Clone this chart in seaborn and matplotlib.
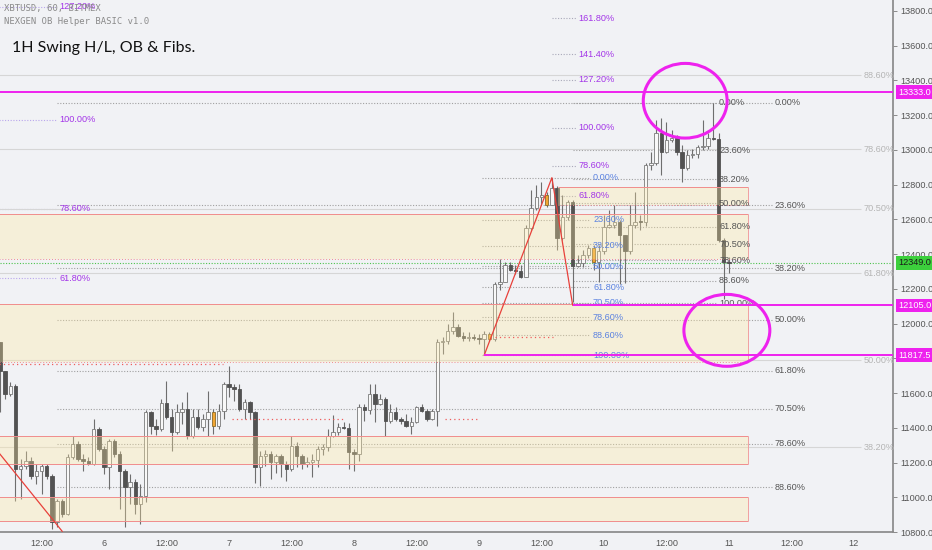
import matplotlib
matplotlib.use("Agg")
import matplotlib.pyplot as plt
import matplotlib.transforms as mtransforms
from matplotlib.patches import Rectangle, Ellipse
import numpy as np
import seaborn as sns

# ---- candles: hours since Jan 5 00:00, XBTUSD 1H ----
hours = list(range(3, 145))
first_open = 11794
closes = [11892, 11725, 11593, 11639, 11162, 11179, 11208, 11122, 11151, 11179,
          11122, 10857, 10978, 10903, 11231, 11306, 11220, 11208, 11191, 11392,
          11277, 11174, 11323, 11248, 11151, 11059, 11087, 10961, 11007, 11490,
          11409, 11392, 11541, 11461, 11375, 11490, 11507, 11352, 11461, 11403,
          11449, 11490, 11409, 11495, 11650, 11633, 11622, 11507, 11547, 11490,
          11174, 11237, 11248, 11202, 11237, 11191, 11162, 11294, 11237, 11191,
          11202, 11214, 11277, 11289, 11352, 11375, 11403, 11400, 11260, 11248,
          11518, 11501, 11593, 11536, 11564, 11438, 11490, 11449, 11438, 11409,
          11432, 11518, 11495, 11449, 11495, 11892, 11898, 11955, 11978, 11926,
          11915, 11920, 11915, 11912, 11938, 11909, 12225, 12242, 12340, 12311,
          12300, 12271, 12553, 12668, 12731, 12742, 12685, 12783, 12495, 12616,
          12702, 12334, 12351, 12397, 12438, 12357, 12415, 12558, 12570, 12587,
          12512, 12415, 12570, 12587, 12582, 12915, 12926, 13099, 12990, 13058,
          13070, 12990, 12898, 12972, 12978, 13018, 13024, 13070, 13064, 12484,
          12357, 12349]
highs = [11920, 11892, 11725, 11662, 11650, 11220, 11266, 11231, 11191, 11191,
         11191, 11133, 10990, 10990, 11248, 11352, 11323, 11248, 11231, 11449,
         11403, 11294, 11334, 11334, 11266, 11162, 11133, 11105, 11076, 11501,
         11495, 11449, 11564, 11668, 11507, 11536, 11547, 11605, 11507, 11507,
         11478, 11610, 11507, 11536, 11662, 11754, 11650, 11650, 11564, 11553,
         11495, 11266, 11271, 11266, 11248, 11248, 11208, 11352, 11317, 11248,
         11231, 11248, 11294, 11306, 11392, 11472, 11426, 11432, 11426, 11277,
         11536, 11536, 11650, 11650, 11593, 11576, 11536, 11518, 11461, 11478,
         11461, 11524, 11536, 11507, 11507, 11909, 11920, 11995, 12064, 11995,
         11949, 11949, 11938, 11938, 11955, 11949, 12242, 12369, 12357, 12357,
         12340, 12340, 12570, 12771, 12800, 12817, 12760, 12840, 12794, 12742,
         12714, 12714, 12397, 12426, 12455, 12455, 12455, 12627, 12656, 12685,
         12599, 12512, 12685, 12760, 12627, 12926, 12990, 13174, 13185, 13162,
         13116, 13087, 13030, 13001, 13007, 13030, 13174, 13099, 13271, 13099,
         12495, 12386]
lows = [11783, 11490, 11564, 11582, 10978, 10990, 11162, 11105, 11076, 11018,
        11105, 10817, 10829, 10886, 10898, 11220, 11208, 11151, 11185, 11185,
        11266, 11133, 11047, 11231, 10932, 10829, 10961, 10903, 10846, 10972,
        11363, 11357, 11380, 11449, 11266, 11363, 11421, 11334, 11340, 11392,
        11380, 11352, 11363, 11392, 11449, 11576, 11553, 11495, 11449, 11449,
        11082, 11064, 11179, 11105, 11139, 11116, 11093, 11151, 11174, 11162,
        11174, 11116, 11174, 11242, 11266, 11346, 11357, 11392, 11162, 11151,
        11208, 11438, 11478, 11432, 11530, 11352, 11426, 11438, 11421, 11403,
        11363, 11426, 11490, 11438, 11444, 11409, 11823, 11880, 11938, 11920,
        11898, 11898, 11903, 11880, 11818, 11898, 11898, 12196, 12237, 12300,
        12283, 12260, 12271, 12541, 12656, 12685, 12674, 12685, 12426, 12484,
        12599, 12122, 12323, 12323, 12380, 12311, 12237, 12403, 12553, 12553,
        12225, 12231, 12403, 12553, 12541, 12564, 12886, 12915, 12857, 12984,
        13047, 12972, 12817, 12886, 12955, 12955, 13001, 13007, 13058, 12472,
        12139, 12294]
orange_hours = [45, 98, 109, 118]

# ---- order block zones (top, bottom, start hour) ----
zone_tops = [12788, 12633, 12110, 11352, 11001]
zone_bottoms = [12685, 12369, 11777, 11191, 10863]
zone_starts = [111.2, -5, -5, -5, -5]
zone_end = 147.7

# ---- fib sets: anchors, ratios, line span, label colour ----
fib_sets = [
    dict(zero=10783, one=13173, ratios=[1.272, 1.0, 0.786, 0.618],
         span=(-5, 15.0), color="#a335e8", line="#b9a6ec", ls=(0, (1, 1.5))),
    dict(zero=12105, one=13127, ratios=[1.618, 1.414, 1.272, 1.0, 0.786, 0.618],
         span=(110.0, 114.6), color="#a335e8", line="#a9a9b9", ls=(0, (1, 1.5))),
    dict(zero=11817.5, one=12840, ratios=[1.0, 0.764, 0.618, 0.5, 0.382, 0.295, 0.214, 0.114, 0.0],
         span=(96.6, 117.4), color="#5b82e0", line="#a0a0a0", ls=(0, (1, 1.5))),
    dict(zero=12116, one=13271, ratios=[1.0, 0.764, 0.618, 0.5, 0.382, 0.295, 0.214, 0.114, 0.0],
         span=(114.0, 141.6), color="#555555", line="#a0a0a0", ls=(0, (1, 1.5))),
    dict(zero=10774, one=13271, ratios=[1.0, 0.764, 0.618, 0.5, 0.382, 0.295, 0.214, 0.114],
         span=(15.0, 152.2), color="#555555", line="#a0a0a0", ls=(0, (1, 1.5))),
    dict(zero=9662, one=13915, ratios=[0.886, 0.786, 0.705, 0.618, 0.5, 0.382],
         span=(-5, 169.3), color="#b5b5b5", line="#d6d6d6", ls="-"),
]
fib_names = [
    ["127.20%", "100.00%", "78.60%", "61.80%"],
    ["161.80%", "141.40%", "127.20%", "100.00%", "78.60%", "61.80%"],
    ["0.00%", "23.60%", "38.20%", "50.00%", "61.80%", "70.50%", "78.60%", "88.60%", "100.00%"],
    ["0.00%", "23.60%", "38.20%", "50.00%", "61.80%", "70.50%", "78.60%", "88.60%", "100.00%"],
    ["0.00%", "23.60%", "38.20%", "50.00%", "61.80%", "70.50%", "78.60%", "88.60%"],
    ["88.60%", "78.60%", "70.50%", "61.80%", "50.00%", "38.20%"],
]

# swing lines
zig1_t = [0, 16]
zig1_p = [11398, 10803]
zig2_t = [97, 110, 114]
zig2_p = [11817.5, 12840, 12105]
swing_levels = [13333.0, 12105.0, 11817.5]
swing_starts = [-5, 114, 97]
last_price = 12349.0

# red dotted liquidity lines (price, start, end)
dot_prices = [11765, 11449, 11449, 11920]
dot_starts = [-5, 48.6, 89.5, 99.0]
dot_ends = [46.9, 70.3, 95.8, 110.2]

tick_hours = [12, 24, 36, 48, 60, 72, 84, 96, 108, 120, 132, 144, 156, 168]
tick_names = ["12:00", "6", "12:00", "7", "12:00", "8", "12:00", "9",
              "12:00", "10", "12:00", "11", "12:00", "12"]

sns.set_theme(style="white")
plt.rcParams["font.family"] = ["Liberation Sans", "DejaVu Sans"]

BG = "#f1f2f5"
fig = plt.figure(figsize=(9.32, 5.5), dpi=100, facecolor=BG)
ax = fig.add_axes([0, 18 / 550, 893 / 932, 532 / 550])
ax.set_facecolor(BG)
ax.set_xlim(4.03, 175.5)
ax.set_ylim(10806, 13863)

# candles
opens = [first_open] + closes[:-1]
w = 0.66
for h, o, c, hi, lo in zip(hours, opens, closes, highs, lows):
    up = c >= o
    fc = "#f8f8f8" if up else "#525252"
    ec = "#7a7a7a" if up else "#525252"
    if h in orange_hours:
        fc, ec = "#f2a531", "#8a6a2a"
    ax.vlines(h, min(lo, o, c), max(hi, o, c), color="#6e6e6e", lw=0.8, zorder=3)
    ax.bar(h, max(abs(c - o), 6), bottom=min(o, c), width=w, color=fc,
           edgecolor=ec, linewidth=0.6, zorder=4)

# zones
for top, bot, st in zip(zone_tops, zone_bottoms, zone_starts):
    ax.add_patch(Rectangle((st, bot), zone_end - st, top - bot, facecolor="#ffe9a0",
                           alpha=0.32, edgecolor="none", zorder=5))
    ax.hlines([top], st, zone_end, color="#f08c8c", lw=0.7, zorder=5)
    ax.hlines([bot], st, zone_end, color="#f08c8c", lw=0.7, zorder=5,
              linestyles=(0, (1, 2)) if top > 12000 else "-")
    ax.vlines(zone_end, bot, top, color="#f0a0a0", lw=0.7, zorder=5)

# fibs
for fs, names in zip(fib_sets, fib_names):
    for r, name in zip(fs["ratios"], names):
        p = fs["zero"] + r * (fs["one"] - fs["zero"])
        ax.hlines(p, fs["span"][0], fs["span"][1], color=fs["line"], lw=0.8,
                  linestyles=fs["ls"], zorder=2)
        ax.text(fs["span"][1] + 0.5, p, name, color=fs["color"], fontsize=6.6,
                va="center", ha="left", zorder=6)

# dotted red lines
for p, s, e in zip(dot_prices, dot_starts, dot_ends):
    ax.hlines(p, s, e, color="#ef5b5b", lw=0.9, linestyles=(0, (1, 2.5)), zorder=5)

# swing zigzags
sns.lineplot(x=zig1_t, y=zig1_p, ax=ax, color="#e8403a", lw=0.9, sort=False, zorder=6)
sns.lineplot(x=zig2_t, y=zig2_p, ax=ax, color="#e8403a", lw=0.9, sort=False, zorder=6)

# magenta swing levels and current price
for p, s in zip(swing_levels, swing_starts):
    ax.hlines(p, s, 180, color="#ee22ee", lw=1.4, zorder=7)
ax.axhline(last_price, color="#4cc24c", lw=0.8, ls=(0, (1, 1.5)), zorder=2)

# ellipses
ax.add_patch(Ellipse((135.6, 13283), 16.1, 430, fill=False, edgecolor="#ee22ee", lw=2.2, zorder=8))
ax.add_patch(Ellipse((143.6, 11961), 16.5, 414, fill=False, edgecolor="#ee22ee", lw=2.2, zorder=8))

# axes styling
for s in ["top", "left"]:
    ax.spines[s].set_visible(False)
ax.spines["right"].set_color("#8a8a8a")
ax.spines["bottom"].set_color("#8a8a8a")
ax.yaxis.tick_right()
ax.set_yticks(np.arange(10800, 13801, 200))
ax.set_yticklabels([f"{v:.1f}" for v in np.arange(10800, 13801, 200)])
ax.set_xticks(tick_hours)
ax.set_xticklabels(tick_names)
ax.tick_params(axis="both", colors="#8a8a8a", labelcolor="#555555", labelsize=6.6,
               length=3, width=0.7, pad=2)
ax.grid(False)

# price tags
trans = mtransforms.blended_transform_factory(ax.transAxes, ax.transData)
for p in swing_levels:
    ax.text(1.006, p, f"{p:.1f}", transform=trans, fontsize=6.6, color="white",
            va="center", ha="left", zorder=10, clip_on=False,
            bbox=dict(boxstyle="square,pad=0.25", fc="#ee22ee", ec="none"))
ax.text(1.006, last_price, f"{last_price:.1f}", transform=trans, fontsize=6.6,
        color="#1a1a1a", va="center", ha="left", zorder=10, clip_on=False,
        bbox=dict(boxstyle="square,pad=0.25", fc="#3ccf3c", ec="none"))

# header texts
fig.text(4 / 932, 1 - 9 / 550, "XBTUSD, 60, BITMEX", fontsize=6.4, color="#8a8a8a",
         family="DejaVu Sans Mono", va="center")
fig.text(4 / 932, 1 - 22 / 550, "NEXGEN OB Helper BASIC v1.0", fontsize=6.4,
         color="#8a8a8a", family="DejaVu Sans Mono", va="center")
fig.text(12 / 932, 1 - 48 / 550, "1H Swing H/L, OB & Fibs.", fontsize=11.5,
         color="#111111", va="center", family=["Lato", "DejaVu Sans"])

fig.savefig("out.png", dpi=100, facecolor=BG)
